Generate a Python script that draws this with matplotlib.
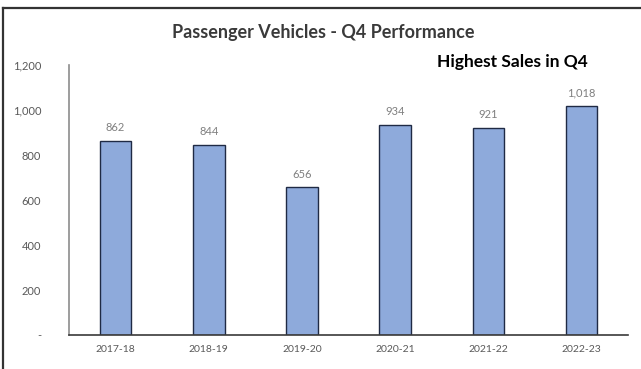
import matplotlib.pyplot as plt
from matplotlib.lines import Line2D
from matplotlib.ticker import FuncFormatter

# Q4 passenger vehicle sales ('000 units)
years = ['2017-18', '2018-19', '2019-20', '2020-21', '2021-22', '2022-23']
sales = [862, 844, 656, 934, 921, 1018]
y_ticks = [0, 200, 400, 600, 800, 1000, 1200]

plt.rcParams['font.family'] = ['Lato', 'DejaVu Sans']

fig = plt.figure(figsize=(6.41, 3.69), dpi=100)
ax = fig.add_axes([0.1076, 0.0921, 0.8724, 0.7317])

x = range(len(years))
bars = ax.bar(x, sales, width=0.34, color='#8eaadb', edgecolor='#1f2a44', linewidth=1.0)

for xi, v in zip(x, sales):
    ax.text(xi, v + 35, f'{v:,}', ha='center', va='bottom', fontsize=8, color='#7f7f7f')

ax.set_xlim(-0.5, 5.5)
ax.set_ylim(0, 1200)
ax.set_xticks(list(x))
ax.set_xticklabels(years, fontsize=7.5, color='#595959')
ax.set_yticks(y_ticks)
ax.yaxis.set_major_formatter(FuncFormatter(lambda v, p: '-' if v == 0 else f'{int(v):,}'))
ax.tick_params(axis='y', labelsize=8, labelcolor='#595959', length=0, pad=20)
ax.tick_params(axis='x', length=0, pad=7)

for s in ['top', 'right']:
    ax.spines[s].set_visible(False)
ax.spines['left'].set_color('#8c8c8c')
ax.spines['left'].set_linewidth(1.2)
ax.spines['bottom'].set_color('#3a3a3a')
ax.spines['bottom'].set_linewidth(1.2)

fig.text(0.504, 0.911, 'Passenger Vehicles - Q4 Performance', ha='center', va='center',
         fontsize=13, fontweight='bold', color='#3a3a3a')
fig.text(0.799, 0.832, 'Highest Sales in Q4', ha='center', va='center',
         fontsize=12.5, fontweight='bold', color='black')

# frame lines along the top and left edges
fig.add_artist(Line2D([0.005, 1.0], [0.978, 0.978], color='#333333', linewidth=1.6))
fig.add_artist(Line2D([0.005, 0.005], [0.0, 0.978], color='#333333', linewidth=1.6))

fig.savefig('out.png', dpi=100)
